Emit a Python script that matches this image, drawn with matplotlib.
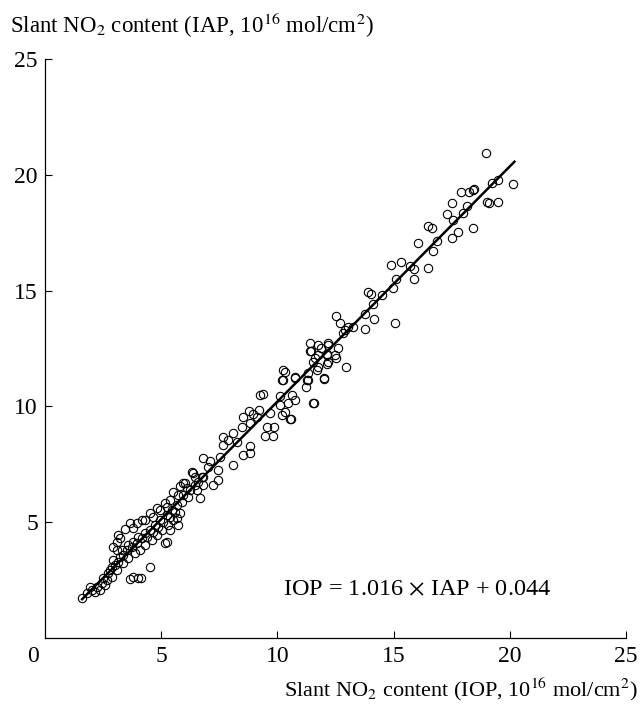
import numpy as np
import matplotlib
matplotlib.use("Agg")
import matplotlib.pyplot as plt
from matplotlib.transforms import ScaledTranslation

plt.rcParams['font.family'] = ['Liberation Serif', 'DejaVu Serif']
plt.rcParams['mathtext.fontset'] = 'stix'

# -- slant NO2 content, IOP (x) vs IAP (y), 1e16 mol/cm2 -- #
iop = [18.97, 19.23, 19.48, 20.13, 17.89, 18.24, 18.40, 18.45, 17.50, 18.15,
       19.00, 19.10, 19.48, 17.29, 17.55, 17.98, 18.40, 16.47, 16.65, 17.50,
       17.76, 16.86, 16.04, 16.69, 16.47, 15.87, 15.70, 15.31, 14.88, 15.87,
       15.10, 14.97, 13.89, 14.02, 14.49, 14.10, 15.05, 13.76, 14.15, 13.76,
       12.52, 12.69, 12.90, 13.03, 13.25, 12.82, 11.40, 11.44, 11.87, 12.17,
       12.60, 11.61, 12.13, 12.52, 12.95, 11.74, 12.17, 10.24, 10.19, 10.75,
       11.31, 12.00,
       11.74, 12.17, 11.40, 11.74, 12.13, 12.47, 11.53, 12.13, 11.70, 10.32,
       10.24, 10.75, 11.31, 11.27, 12.00, 11.23, 9.38, 10.10, 10.62, 11.57,
       10.45, 10.75, 10.10, 8.77, 8.95, 9.20, 9.12, 10.32, 8.52, 10.19,
       10.58, 9.68, 8.47, 8.82, 9.55, 9.85, 9.46, 9.81, 8.09, 7.87,
       8.26, 7.66, 7.66, 8.82, 8.82, 8.52, 7.53, 7.10, 6.80, 7.01,
       8.09, 7.44, 6.32, 6.45, 5.94, 7.44, 7.23, 6.80, 9.25, 11.53, 10.54,
       4.52, 3.66, 4.13, 5.25, 5.72, 5.59, 5.38, 4.00, 3.78, 5.16,
       3.23, 3.10, 3.44, 3.66, 4.17, 4.52, 4.82, 5.16, 5.81, 6.02,
       6.37, 5.50,
       1.59, 1.81, 2.02, 2.24, 2.15, 2.45, 2.49, 2.67, 2.71, 2.80,
       2.88, 3.01, 2.92, 3.14, 3.23, 3.35, 3.31, 3.53, 3.57, 3.74,
       3.78, 3.96, 4.00, 4.17, 4.30, 4.39, 4.52, 4.65, 4.73, 4.86,
       4.95, 5.08, 5.25, 5.38, 5.46, 5.68, 5.89, 5.94, 6.15, 6.24,
       6.45, 6.58, 6.75,
       1.94, 2.37, 2.58, 2.88, 3.10, 3.35, 3.57, 3.87, 4.09, 4.30,
       4.60, 4.82, 5.03, 5.29, 5.50, 3.10, 2.92, 3.14, 3.78, 3.96,
       4.30, 4.65, 4.95, 5.25, 5.38, 5.72, 6.11, 6.54, 6.67, 6.80,
       5.81, 5.68]
iap = [20.95, 19.66, 19.78, 19.61, 19.27, 19.27, 19.35, 19.40, 18.80, 18.66,
       18.84, 18.80, 18.84, 18.32, 18.06, 18.36, 17.72, 17.80, 17.72, 17.28,
       17.54, 17.16, 17.07, 16.72, 15.99, 15.95, 16.08, 16.25, 16.12, 15.52,
       15.52, 15.13, 14.96, 14.87, 14.83, 14.44, 13.58, 14.00, 13.79, 13.32,
       13.92, 13.58, 13.28, 13.41, 13.41, 13.15, 12.72, 12.41, 12.54, 12.72,
       12.54, 12.07, 12.24, 12.07, 11.68, 11.68, 11.90, 11.55, 11.12, 11.25,
       11.12, 11.21,
       12.63, 12.67, 12.37, 12.20, 12.20, 12.20, 11.90, 11.85, 11.59, 11.47,
       11.12, 11.21, 11.42, 11.12, 11.16, 10.82, 10.52, 10.43, 10.47, 10.13,
       10.13, 10.26, 10.04, 9.78, 9.66, 9.83, 9.53, 9.74, 9.53, 9.61,
       9.44, 9.70, 9.09, 9.27, 9.09, 9.09, 8.71, 8.71, 8.84, 8.53,
       8.45, 8.32, 8.66, 8.28, 7.97, 7.89, 7.80, 7.63, 7.76, 7.37,
       7.46, 7.24, 7.16, 6.94, 6.68, 6.81, 6.59, 6.94, 10.47, 10.13, 9.44,
       3.06, 2.54, 2.59, 4.14, 4.87, 5.43, 4.66, 2.59, 2.63, 4.09,
       4.31, 3.79, 4.70, 4.96, 5.09, 5.39, 5.60, 5.82, 6.55, 6.68,
       7.11, 6.29,
       1.72, 1.94, 2.07, 2.20, 1.98, 2.37, 2.59, 2.50, 2.80, 2.93,
       3.06, 3.15, 3.36, 3.28, 3.49, 3.58, 3.79, 3.79, 4.01, 3.92,
       4.14, 4.09, 4.35, 4.31, 4.53, 4.35, 4.66, 4.57, 4.87, 4.78,
       5.09, 5.00, 5.30, 5.22, 5.52, 5.73, 5.86, 6.16, 6.08, 6.38,
       6.59, 6.72, 6.94,
       2.20, 2.07, 2.28, 2.63, 2.93, 3.23, 3.45, 3.66, 3.79, 4.01,
       4.22, 4.44, 4.66, 4.87, 5.09, 4.14, 3.92, 4.44, 4.74, 4.96,
       5.09, 5.22, 5.52, 5.65, 5.95, 6.16, 6.47, 6.38, 6.03, 6.59,
       5.39, 5.17]

# regression printed on the chart
fit_slope = 1.016
fit_icpt = 0.044
fit_x = [1.6, 20.2]

xticks = [5, 10, 15, 20, 25]
yticks = [5, 10, 15, 20, 25]

fig = plt.figure(figsize=(6.42, 7.04), dpi=100)
ax = fig.add_axes([0.070, 0.094, 0.905, 0.822])

ax.plot(iop, iap, 'o', ms=6, mfc='none', mec='black', mew=0.8)
fx = np.array(fit_x)
ax.plot(fx, fit_slope * fx + fit_icpt, color='black', lw=1.8)

ax.set_xlim(0, 25)
ax.set_ylim(0, 25)
ax.set_xticks(xticks)
ax.set_yticks(yticks)
ax.tick_params(direction='in', length=5, width=0.8, labelsize=17, pad=6)
ax.tick_params(axis='y', pad=5)
for s in ['top', 'right']:
    ax.spines[s].set_visible(False)
for s in ['left', 'bottom']:
    ax.spines[s].set_linewidth(0.9)

# shared origin label, sitting left of the corner
tr, va, ha = ax.get_xaxis_text1_transform(6)
ax.text(0, 0, '0', fontsize=17, va=va, ha='center',
        transform=tr + ScaledTranslation(-0.12, 0, fig.dpi_scale_trans))

ax.text(16.0, 2.07, r'IOP = 1.016 $\times$ IAP + 0.044', fontsize=17.5,
        ha='center', va='center')

fig.text(10 / 642, 1 - 33 / 704, r'Slant NO$_2$ content (IAP, 10$^{16}$ mol/cm$^2$)',
         fontsize=16.5, ha='left', va='baseline')
fig.text(638 / 642, 1 - 696 / 704, r'Slant NO$_2$ content (IOP, 10$^{16}$ mol/cm$^2$)',
         fontsize=16, ha='right', va='baseline')

fig.savefig('out.png', dpi=100)
